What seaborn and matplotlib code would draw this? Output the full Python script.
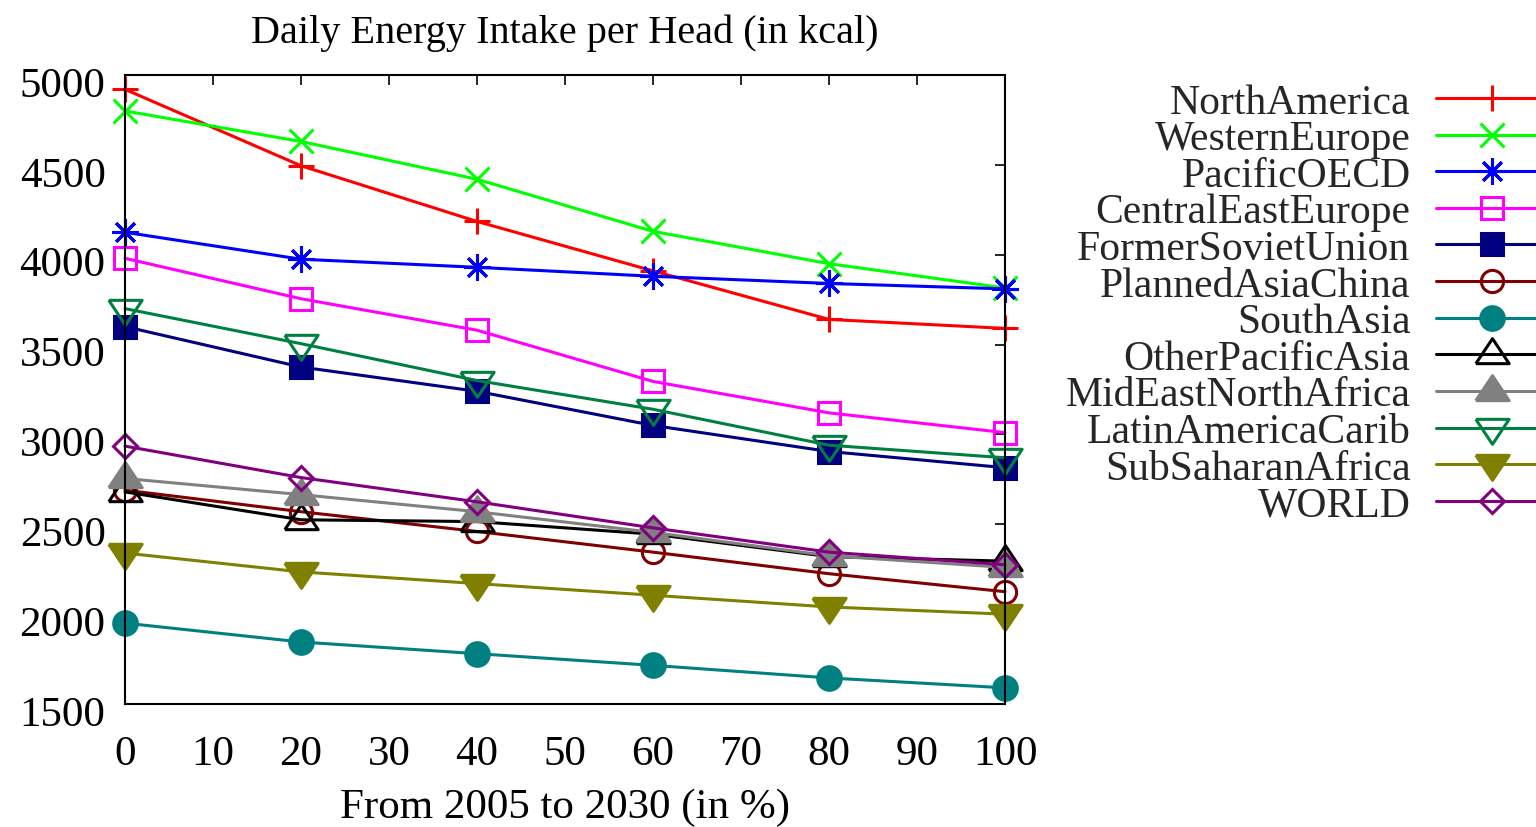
import matplotlib
matplotlib.use("Agg")
import matplotlib.pyplot as plt
import matplotlib.transforms as mtransforms
import seaborn as sns
import pandas as pd

x_pct = [0, 20, 40, 60, 80, 100]
regions = ["NorthAmerica", "WesternEurope", "PacificOECD", "CentralEastEurope",
           "FormerSovietUnion", "PlannedAsiaChina", "SouthAsia", "OtherPacificAsia",
           "MidEastNorthAfrica", "LatinAmericaCarib", "SubSaharanAfrica", "WORLD"]
north_america = [4920, 4495, 4185, 3910, 3640, 3590]
western_europe = [4800, 4630, 4420, 4130, 3950, 3815]
pacific_oecd = [4125, 3975, 3930, 3880, 3840, 3810]
central_east_europe = [3980, 3755, 3580, 3295, 3120, 3010]
former_soviet_union = [3600, 3375, 3240, 3050, 2905, 2815]
planned_asia_china = [2690, 2570, 2460, 2345, 2225, 2125]
south_asia = [1950, 1845, 1780, 1715, 1645, 1590]
other_pacific_asia = [2680, 2525, 2515, 2445, 2320, 2295]
mideast_north_africa = [2755, 2665, 2570, 2455, 2325, 2260]
latin_america_carib = [3700, 3505, 3300, 3140, 2940, 2870]
sub_saharan_africa = [2340, 2235, 2170, 2105, 2040, 2000]
world = [2935, 2760, 2625, 2480, 2345, 2275]
series = [north_america, western_europe, pacific_oecd, central_east_europe,
          former_soviet_union, planned_asia_china, south_asia, other_pacific_asia,
          mideast_north_africa, latin_america_carib, sub_saharan_africa, world]
x_ticks = [0, 10, 20, 30, 40, 50, 60, 70, 80, 90, 100]
y_ticks = [1500, 2000, 2500, 3000, 3500, 4000, 4500, 5000]

sns.set_theme(style="white")
plt.rcParams['font.family'] = ['Liberation Serif', 'DejaVu Serif']

tri_up = [(-1, -0.55), (1, -0.55), (0, 0.95), (-1, -0.55)]
tri_dn = [(-1, 0.55), (1, 0.55), (0, -0.95), (-1, 0.55)]
styles = [
    dict(color="#ff0000", marker="+", ms=19, mfc="#ff0000"),
    dict(color="#00ff00", marker="x", ms=17, mfc="#00ff00"),
    dict(color="#0000ff", marker=(8, 2, 0), ms=19, mfc="#0000ff"),
    dict(color="#ff00ff", marker="s", ms=16, mfc="none"),
    dict(color="#000080", marker="s", ms=16, mfc="#000080"),
    dict(color="#800000", marker="o", ms=16, mfc="none"),
    dict(color="#008080", marker="o", ms=17, mfc="#008080"),
    dict(color="#000000", marker=tri_up, ms=24, mfc="none"),
    dict(color="#808080", marker=tri_up, ms=24, mfc="#808080"),
    dict(color="#008040", marker=tri_dn, ms=24, mfc="none"),
    dict(color="#808000", marker=tri_dn, ms=24, mfc="#808000"),
    dict(color="#800080", marker="D", ms=12, mfc="none"),
]

fig = plt.figure(figsize=(15.36, 8.28), dpi=100)
ax = fig.add_axes([125 / 1536, 1 - 705 / 828, 880 / 1536, 629 / 828])

for name, vals, st in zip(regions, series, styles):
    df = pd.DataFrame({"x": x_pct, "y": vals})
    sns.lineplot(data=df, x="x", y="y", ax=ax, color=st["color"], label=name,
                 marker=st["marker"], markersize=st["ms"],
                 markerfacecolor=st["mfc"], markeredgecolor=st["color"],
                 markeredgewidth=2.2, linewidth=2.2, clip_on=False)

ax.set_xlim(0, 100)
ax.set_ylim(1500, 5000)
ax.set_xticks(x_ticks)
ax.set_yticks(y_ticks)
ax.tick_params(direction="in", length=7, width=1.2, top=True, right=True,
               labelsize=31, colors="black", pad=14)
ax.tick_params(axis="x", pad=22)
for s in ax.spines.values():
    s.set_linewidth(1.5)
    s.set_color("black")

shift = mtransforms.ScaledTranslation(0, -6 / 100, fig.dpi_scale_trans)
for lab in ax.get_yticklabels():
    lab.set_transform(lab.get_transform() + shift)

ax.set_ylabel("")
ax.set_xlabel("From 2005 to 2030 (in %)", fontsize=31, color="black")
ax.xaxis.set_label_coords(0.5, (705 - 808) / 629)
ax.xaxis.label.set_va("center")
ax.set_title("Daily Energy Intake per Head (in kcal)", fontsize=29, color="black",
             y=(705 - 42) / 629, va="center")

leg = ax.legend(loc="upper right", bbox_to_anchor=(1548 / 1536, 1 - 84 / 828),
                bbox_transform=fig.transFigure, markerfirst=False, frameon=False,
                handlelength=2.7, handletextpad=0.6, labelspacing=-0.045,
                borderpad=0, borderaxespad=0, fontsize=30)

fig.savefig("out.png", dpi=100)
